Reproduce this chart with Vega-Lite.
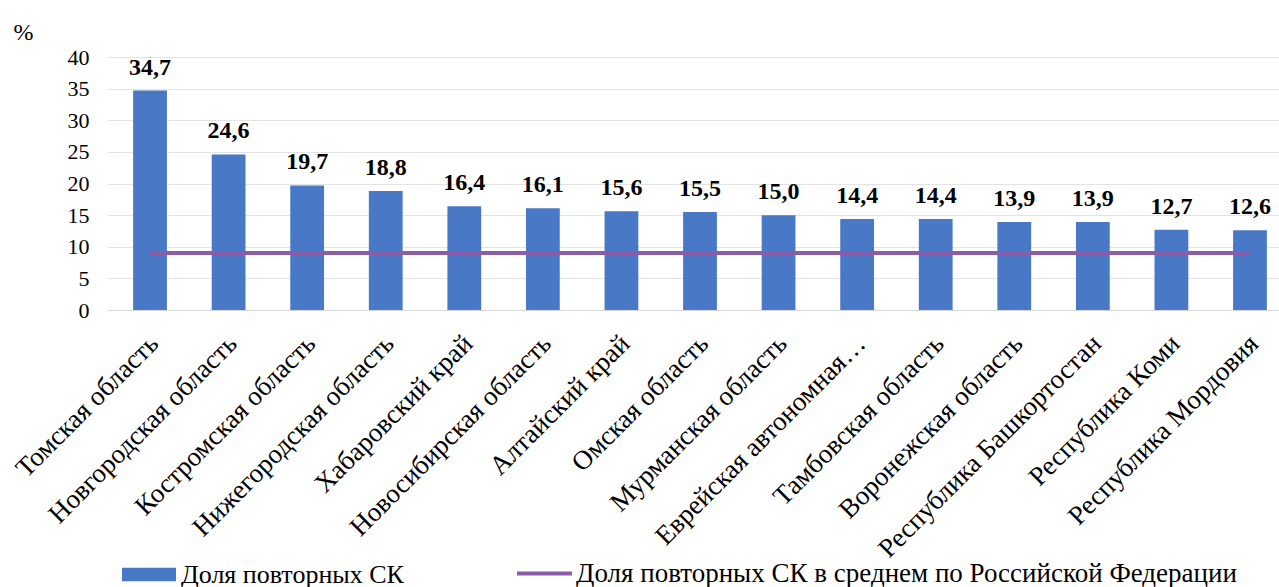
{
  "$schema": "https://vega.github.io/schema/vega-lite/v6.json",
  "autosize": "none",
  "width": 1172,
  "height": 253,
  "padding": {"left": 107, "top": 57, "right": 0, "bottom": 277},
  "background": "white",
  "config": {
    "locale": {"number": {"decimal": ",", "thousands": " ", "grouping": [3], "currency": ["", " ₽"]}},
    "font": "Liberation Serif",
    "view": {"stroke": null},
    "legend": {"padding": 0, "labelFont": "Liberation Serif"},
    "axis": {"labelFont": "Liberation Serif", "titleFont": "Liberation Serif"},
    "text": {"font": "Liberation Serif"}
  },
  "data": {
    "values": [
      {"region": "Томская область", "value": 34.7, "avg": 9.0},
      {"region": "Новгородская область", "value": 24.6, "avg": 9.0},
      {"region": "Костромская область", "value": 19.7, "avg": 9.0},
      {"region": "Нижегородская область", "value": 18.8, "avg": 9.0},
      {"region": "Хабаровский край", "value": 16.4, "avg": 9.0},
      {"region": "Новосибирская область", "value": 16.1, "avg": 9.0},
      {"region": "Алтайский край", "value": 15.6, "avg": 9.0},
      {"region": "Омская область", "value": 15.5, "avg": 9.0},
      {"region": "Мурманская область", "value": 15.0, "avg": 9.0},
      {"region": "Еврейская автономная область", "value": 14.4, "avg": 9.0},
      {"region": "Тамбовская область", "value": 14.4, "avg": 9.0},
      {"region": "Воронежская область", "value": 13.9, "avg": 9.0},
      {"region": "Республика Башкортостан", "value": 13.9, "avg": 9.0},
      {"region": "Республика Коми", "value": 12.7, "avg": 9.0},
      {"region": "Республика Мордовия", "value": 12.6, "avg": 9.0}
    ]
  },
  "encoding": {
    "x": {
      "field": "region", "type": "nominal", "sort": null,
      "scale": {"paddingInner": 0.57, "paddingOuter": 0.2435, "align": 0.683},
      "axis": {
        "title": null, "labelAngle": -45, "labelFontSize": 27, "labelColor": "black",
        "labelLimit": 400, "labelPadding": 20, "labelOffset": -5,
        "labelExpr": "datum.label == 'Еврейская автономная область' ? 'Еврейская автономная…' : datum.label",
        "ticks": false, "domain": true, "domainColor": "#d9d9d9", "labelOverlap": false
      }
    },
    "y": {
      "field": "value", "type": "quantitative",
      "scale": {"domain": [0, 40]},
      "axis": {
        "title": "%", "titleAngle": 0, "titleX": -94, "titleY": -25, "titleAlign": "left", "titleBaseline": "middle",
        "titleFontSize": 24, "titleFontWeight": "normal", "titleColor": "black",
        "values": [0, 5, 10, 15, 20, 25, 30, 35, 40], "labelOverlap": false,
        "labelFontSize": 22, "labelColor": "black", "labelPadding": 18,
        "ticks": false, "domain": false, "gridColor": "#e3e3e3", "gridWidth": 1
      }
    }
  },
  "layer": [
    {
      "mark": {"type": "bar"},
      "encoding": {
        "fill": {
          "datum": "Доля повторных СК",
          "scale": {"range": ["#4878c6"]},
          "legend": {
            "title": null, "orient": "none", "legendX": 15, "legendY": 504,
            "symbolType": "M-1,-0.5H3V0.5H-1Z", "symbolSize": 729, "symbolStrokeWidth": 0,
            "labelFontSize": 26, "labelColor": "black", "labelOffset": 32, "labelLimit": 800
          }
        }
      }
    },
    {
      "mark": {"type": "text", "dy": -11, "fontSize": 24, "fontWeight": "bold", "color": "black", "baseline": "bottom", "font": "Liberation Serif"},
      "encoding": {
        "text": {"field": "value", "type": "quantitative", "format": ".1f"}
      }
    },
    {
      "mark": {"type": "line", "strokeWidth": 4},
      "encoding": {
        "y": {
          "field": "avg", "type": "quantitative",
          "scale": {"domain": [0, 40]},
          "axis": {
            "title": "%", "titleAngle": 0, "titleX": -94, "titleY": -25, "titleAlign": "left", "titleBaseline": "middle",
            "titleFontSize": 24, "titleFontWeight": "normal", "titleColor": "black",
            "values": [0, 5, 10, 15, 20, 25, 30, 35, 40], "labelOverlap": false,
            "labelFontSize": 22, "labelColor": "black", "labelPadding": 18,
            "ticks": false, "domain": false, "gridColor": "#e3e3e3", "gridWidth": 1
          }
        },
        "stroke": {
          "datum": "Доля повторных СК в среднем по Российской Федерации",
          "scale": {"range": ["#8b5ca8"]},
          "legend": {
            "title": null, "orient": "none", "legendX": 408, "legendY": 487,
            "symbolType": "stroke", "symbolSize": 3025, "symbolStrokeWidth": 4,
            "labelFontSize": 27, "labelColor": "black", "labelOffset": 2, "labelLimit": 900
          }
        }
      }
    }
  ]
}
